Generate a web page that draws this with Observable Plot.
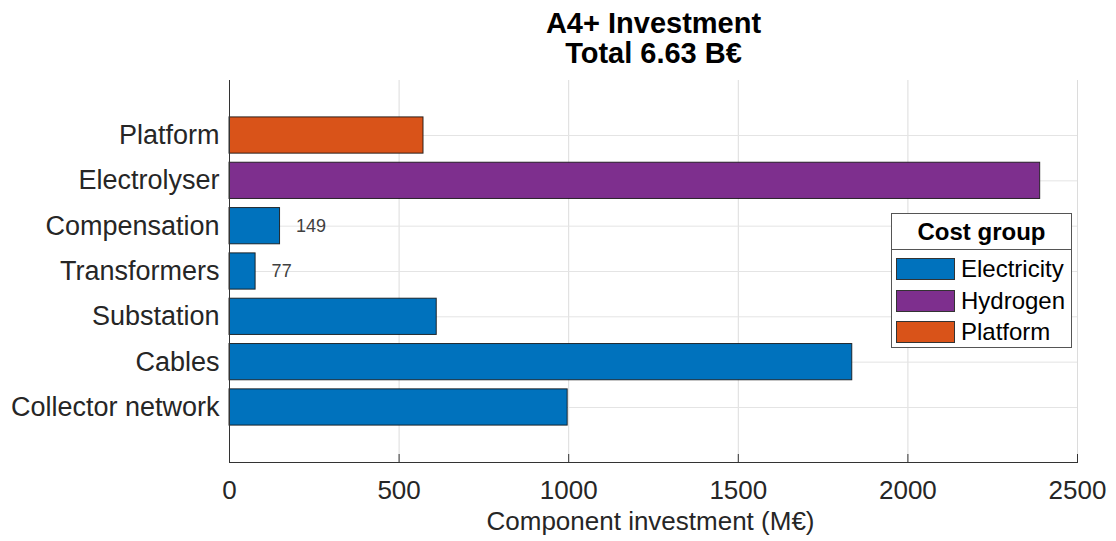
<!DOCTYPE html>
<html>
<head>
<meta charset="utf-8">
<script src="https://cdn.jsdelivr.net/npm/d3@7"></script>
<script src="https://cdn.jsdelivr.net/npm/@observablehq/plot@0.6"></script>
<style>
  html, body { margin: 0; padding: 0; background: #fff; }
  #wrap { position: relative; width: 1116px; height: 541px; font-family: "Liberation Sans", Arial, sans-serif; }
  #legend { position: absolute; left: 891px; top: 213px; width: 179px; height: 133px; border: 1px solid #555; background: #fff; color: #000; }
  #legend .hdr { height: 35px; border-bottom: 1px solid #555; font-weight: bold; font-size: 24px; text-align: center; line-height: 36px; }
  #legend .row { position: absolute; left: 4px; height: 23px; display: flex; align-items: center; font-size: 24px; }
  #legend .sw { width: 59px; height: 22px; border: 1px solid #333; box-sizing: border-box; margin-right: 6px; }
</style>
</head>
<body>
<div id="wrap"></div>
<script>
// ---- data ----
const components = ["Platform", "Electrolyser", "Compensation", "Transformers", "Substation", "Cables", "Collector network"];
const values = [572, 2390, 149, 77, 611, 1836, 997];
const groups = ["Platform", "Hydrogen", "Electricity", "Electricity", "Electricity", "Electricity", "Electricity"];
const groupNames = ["Electricity", "Hydrogen", "Platform"];
const groupColors = ["#0072BD", "#7E2F8E", "#D95319"];
const xTicks = [0, 500, 1000, 1500, 2000, 2500];
const titleLines = ["A4+ Investment", "Total 6.63 B€"];
const xLabel = "Component investment (M€)";
const legendTitle = "Cost group";

const data = components.map((c, i) => ({component: c, value: values[i], group: groups[i]}));

const W = 1116, H = 541;
const font = "Liberation Sans, Arial, sans-serif";

const chart = Plot.plot({
  width: W,
  height: H,
  marginLeft: 229,
  marginRight: 39,
  marginTop: 80,
  marginBottom: 79,
  style: {fontFamily: font, background: "#fff", color: "#262626"},
  x: {domain: [0, 2500], ticks: xTicks},
  y: {domain: components, paddingInner: 0.2, paddingOuter: 0.814, round: false},
  color: {domain: groupNames, range: groupColors},
  marks: [
    Plot.gridX(xTicks, {stroke: "#dcdcdc", strokeOpacity: 1}),
    Plot.gridY({stroke: "#e4e4e4", strokeOpacity: 1}),
    Plot.barX(data, {x: "value", y: "component", fill: "group", stroke: "#111", strokeWidth: 1, strokeOpacity: 0.85}),
    Plot.text(data.filter(d => d.value < 200), {x: "value", y: "component", text: d => String(d.value), textAnchor: "start", dx: 16, fontSize: 18, fill: "#404040"}),
    Plot.ruleX([0], {stroke: "#333", strokeWidth: 1}),
    Plot.axisX(xTicks, {tickSize: 0, tickPadding: 18, fontSize: 26, fill: "#262626", label: null, tickFormat: d => String(d)}),
    Plot.ruleX(xTicks, {x: d => d, insetTop: 374, stroke: "#333"}),
    Plot.axisY({tickSize: 0, tickPadding: 10, fontSize: 27, fill: "#262626", label: null}),
    Plot.frame({anchor: "bottom", stroke: "#333"}),
    Plot.text([titleLines[0]], {frameAnchor: "top", dy: -68, fontSize: 29, fontWeight: "bold", fill: "#000"}),
    Plot.text([titleLines[1]], {frameAnchor: "top", dy: -38, fontSize: 29, fontWeight: "bold", fill: "#000"}),
    Plot.text([xLabel], {frameAnchor: "bottom", dy: 67, fontSize: 26, fill: "#262626", dx: -3})
  ]
});

const wrap = document.getElementById("wrap");
wrap.appendChild(chart);

// legend
const lg = document.createElement("div");
lg.id = "legend";
const hdr = document.createElement("div");
hdr.className = "hdr";
hdr.textContent = legendTitle;
lg.appendChild(hdr);
const rowTops = [43, 75, 106];
groupNames.forEach((g, i) => {
  const row = document.createElement("div");
  row.className = "row";
  row.style.top = rowTops[i] + "px";
  const sw = document.createElement("div");
  sw.className = "sw";
  sw.style.background = groupColors[i];
  const t = document.createElement("span");
  t.textContent = g;
  row.appendChild(sw);
  row.appendChild(t);
  lg.appendChild(row);
});
wrap.appendChild(lg);
</script>
</body>
</html>
